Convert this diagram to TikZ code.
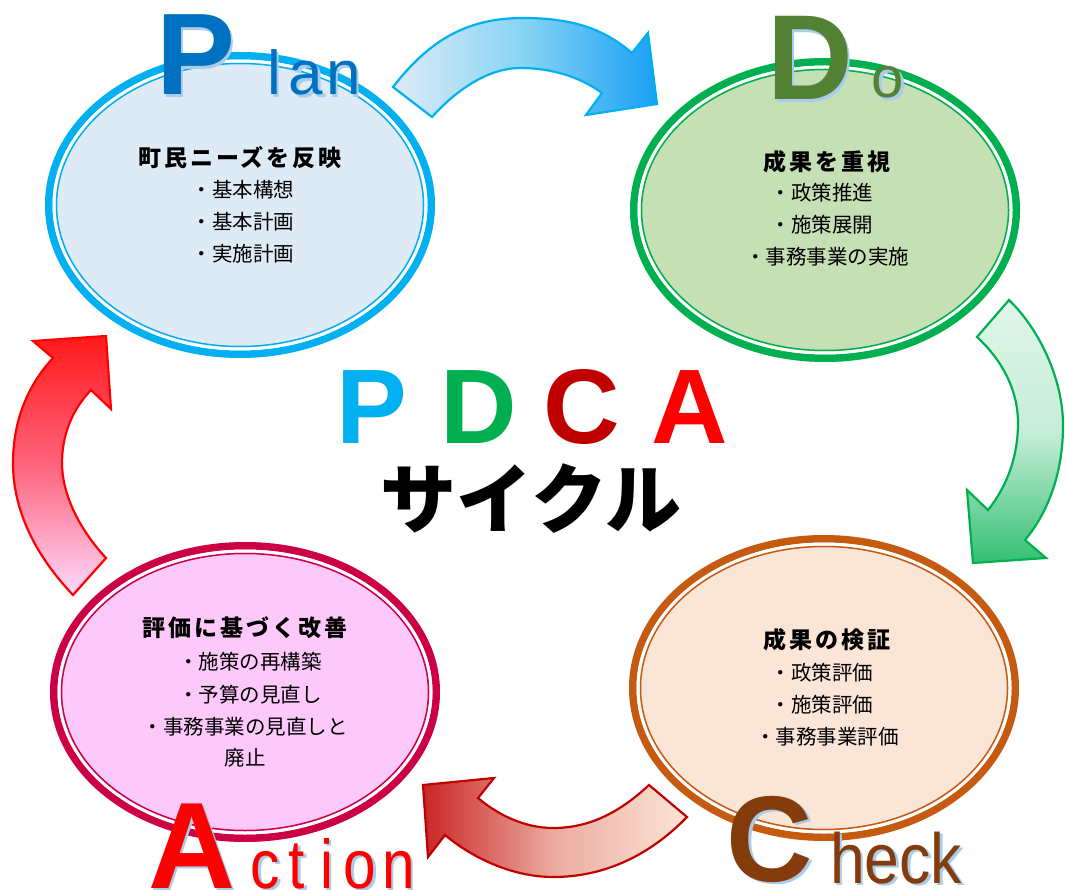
\documentclass[tikz,border=0pt]{standalone}
\usepackage{fontspec}
\newfontfamily\jp{Noto Sans CJK JP}
\newfontfamily\lat{Liberation Sans}
\definecolor{planC}{HTML}{00B0F0}
\definecolor{planF}{HTML}{DEEBF7}
\definecolor{doC}{HTML}{00B050}
\definecolor{doF}{HTML}{C5E0B4}
\definecolor{chkC}{HTML}{C55A11}
\definecolor{chkF}{HTML}{FBE5D6}
\definecolor{actC}{HTML}{CC0044}
\definecolor{actF}{HTML}{FDC9FB}
\definecolor{glow}{HTML}{A9CCEB}
\definecolor{pBlue}{HTML}{0070C0}
\definecolor{dGreen}{HTML}{548235}
\definecolor{cBrown}{HTML}{843C0C}
\definecolor{aRed}{HTML}{FF0000}
\definecolor{darkRed}{HTML}{C00000}
\newcommand\RingShape[6]{% x y rx ry line fill
  \fill[#6] (#1,#2) ellipse ({#3} and {#4});
  \draw[#5, line width=7.5] (#1,#2) ellipse ({#3-3.75} and {#4-3.75});
  \draw[white, line width=3] (#1,#2) ellipse ({#3-9} and {#4-9});
  \draw[#5, line width=1.5] (#1,#2) ellipse ({#3-11.5} and {#4-11.5});
}
\newcommand\BigLet[8]{% name x y size xscale color weight text
  \node[anchor=base, inner sep=0, xscale=#5, text=glow, font=\lat#7\fontsize{#4}{#4}\selectfont] (#1s) at (#2+2.5,#3+2.5) {#8};
  \node[anchor=base, inner sep=0, xscale=#5, text=#6, font=\lat#7\fontsize{#4}{#4}\selectfont] (#1) at (#2,#3) {#8};
}
\tikzset{
  ttl/.style={inner sep=0, font=\jp\bfseries\fontsize{23}{28}\selectfont\addfontfeature{LetterSpace=13}},
  itm/.style={inner sep=0, font=\jp\fontsize{20.5}{26}\selectfont},
  pdca/.style={inner sep=0, anchor=base, font=\lat\bfseries\fontsize{106}{110}\selectfont},
  arr/.style={line width=2.2, line join=miter},
}
\begin{document}
\begin{tikzpicture}[x=1pt,y=-1pt]
\useasboundingbox (0,0) rectangle (1065,890);
\fill[white] (0,0) rectangle (1065,890);

% ---------- arrows ----------
% blue (Plan -> Do)
\path[arr, draw=planC, left color=planF, right color=planC!85!blue!90, middle color=planF!60!planC]
  (393,87) .. controls (428,42) and (465,18) .. (523,18)
  .. controls (575,18) and (605,30) .. (632,53)
  -- (648,33) -- (657,104) -- (586,115) -- (602,93)
  .. controls (580,77) and (552,68) .. (520,68)
  .. controls (490,68) and (458,88) .. (432,117) -- cycle;
% green (Do -> Check)
\path[arr, draw=doC, top color=doC!12, bottom color=doC!80, middle color=doC!22]
  (1009,300) .. controls (1040,330) and (1063,380) .. (1063,425)
  .. controls (1063,470) and (1050,510) .. (1025,540)
  -- (1046,558) -- (973,563) -- (967,490) -- (988,510)
  .. controls (1008,485) and (1018,455) .. (1018,423)
  .. controls (1018,390) and (1002,360) .. (977,337) -- cycle;
% dark red (Check -> Action)
\path[arr, draw=darkRed, left color=darkRed!85, right color=chkF, middle color=darkRed!25!chkF]
  (687,817) -- (649,785)
  .. controls (620,812) and (590,828) .. (553,828)
  .. controls (525,828) and (498,815) .. (478,798)
  -- (494,778) -- (423,785) -- (428,857) -- (445,835)
  .. controls (475,860) and (515,877) .. (553,877)
  .. controls (605,877) and (650,855) .. (687,817) -- cycle;
% red (Action -> Plan)
\path[arr, draw=aRed, top color=aRed!90, bottom color=actF!70!white, middle color=aRed!50!actF]
  (73,595) .. controls (35,555) and (13,510) .. (13,463)
  .. controls (13,420) and (28,385) .. (53,358)
  -- (33,341) -- (106,336) -- (111,409) -- (91,390)
  .. controls (72,410) and (62,435) .. (62,463)
  .. controls (62,495) and (80,530) .. (106,558) -- cycle;

% ---------- ellipses ----------
\RingShape{240}{205}{195}{153}{planC}{planF}
\RingShape{825}{210}{195}{152}{doC}{doF}
\RingShape{824}{688}{195}{153}{chkC}{chkF}
\RingShape{245}{692}{195}{150}{actC}{actF}

% ---------- texts ----------
\node[ttl] (pt) at (240,158) {町民ニーズを反映};
\node[itm] (p1) at (243,190) {・基本構想};
\node[itm] (p2) at (243,222) {・基本計画};
\node[itm] (p3) at (243,254) {・実施計画};

\node[ttl] (dt) at (827,162) {成果を重視};
\node[itm] (d1) at (822,193) {・政策推進};
\node[itm] (d2) at (822,225) {・施策展開};
\node[itm] (d3) at (827,257) {・事務事業の実施};

\node[ttl] (ct) at (827,640) {成果の検証};
\node[itm] (c1) at (822,673) {・政策評価};
\node[itm] (c2) at (822,705) {・施策評価};
\node[itm] (c3) at (827,737) {・事務事業評価};

\node[ttl] (at) at (245,628) {評価に基づく改善};
\node[itm] (a1) at (250,662) {・施策の再構築};
\node[itm] (a2) at (250,695) {・予算の見直し};
\node[itm] (a3) at (245,727) {・事務事業の見直しと};
\node[itm] (a4) at (245,758) {廃止};

% center
\node[pdca, text=planC] (cP) at (372,443) {P};
\node[pdca, text=doC] (cD) at (479,443) {D};
\node[pdca, text=darkRed] (cC) at (582,443) {C};
\node[pdca, text=aRed] (cA) at (690,443) {A};
\node[inner sep=0, font=\jp\bfseries\fontsize{76}{80}\selectfont] (cyc) at (531,499) {サイクル};

% ---------- big letters ----------
\BigLet{bP}{195.5}{95}{116}{1.02}{pBlue}{\bfseries}{P}
\BigLet{bl}{274}{95}{62}{1}{pBlue}{}{l}
\BigLet{ba}{306}{95}{62}{1}{pBlue}{}{a}
\BigLet{bn}{343.5}{95}{62}{1}{pBlue}{}{n}

\BigLet{bD}{810}{100}{121}{0.98}{dGreen}{\bfseries}{D}
\BigLet{bo}{888}{98}{58}{1}{dGreen}{}{o}

\BigLet{bC}{770}{881}{122}{0.98}{cBrown}{\bfseries}{C}
\BigLet{bheck}{896}{883}{71}{0.88}{cBrown}{}{heck}

\BigLet{bA}{192}{888}{123}{0.98}{aRed}{\bfseries}{A}
\BigLet{bc}{265.5}{888}{69}{0.85}{aRed}{}{c}
\BigLet{bt}{297}{888}{69}{0.85}{aRed}{}{t}
\BigLet{bi}{327}{888}{69}{0.85}{aRed}{}{i}
\BigLet{bo2}{360}{888}{69}{0.85}{aRed}{}{o}
\BigLet{bn2}{398.5}{888}{69}{0.85}{aRed}{}{n}
\end{tikzpicture}
\end{document}
